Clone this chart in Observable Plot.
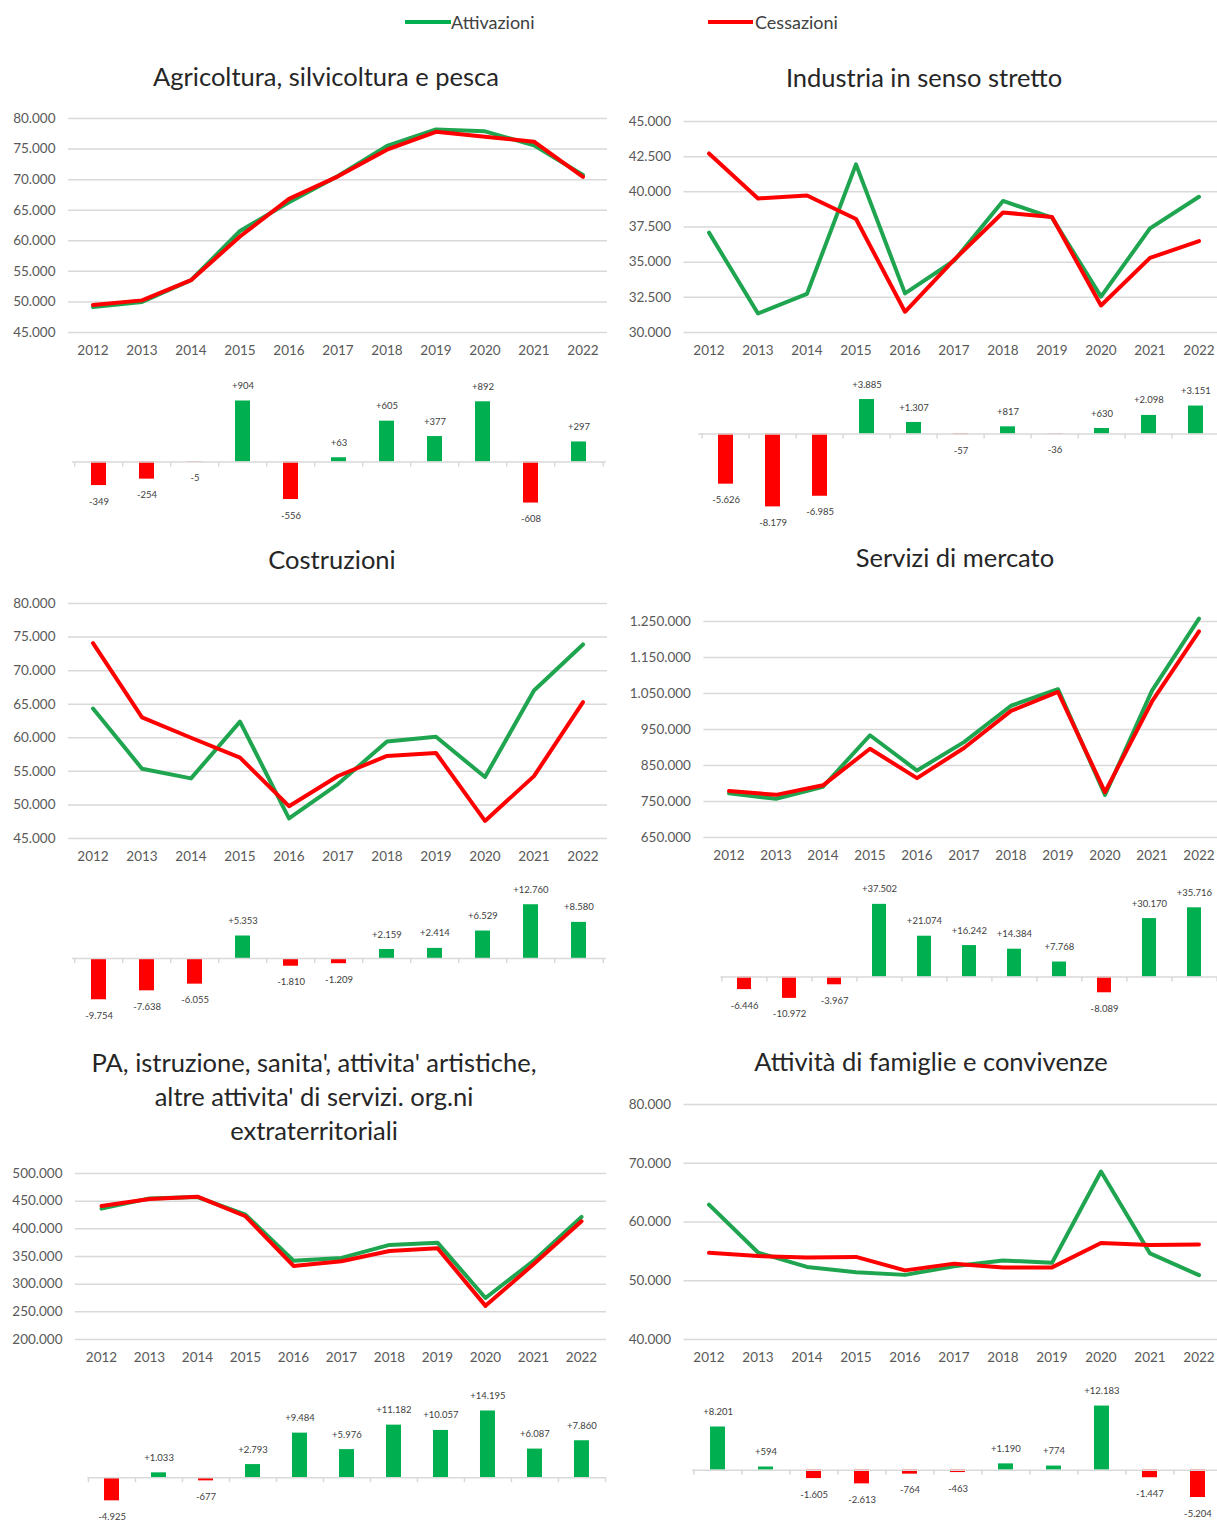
<!DOCTYPE html>
<html>
<head>
<meta charset="utf-8">
<script src="https://cdn.jsdelivr.net/npm/d3@7"></script>
<script src="https://cdn.jsdelivr.net/npm/@observablehq/plot@0.6"></script>
<style>
  html, body { margin: 0; padding: 0; background: #fff; }
  body { width: 1217px; height: 1522px; overflow: hidden; }
  #root { position: relative; width: 1217px; height: 1522px; font-family: Lato, "Open Sans", sans-serif; }
  .title { position: absolute; text-align: center; font-size: 25.5px; color: #262626; line-height: 34px; width: 700px; }
  .leg { position: absolute; font-size: 18px; color: #404040; line-height: 20px; }
  .legline { position: absolute; height: 4px; }
</style>
</head>
<body>
<div id="root"></div>
<script>
// ---------- DATA ----------
const years = ["2012","2013","2014","2015","2016","2017","2018","2019","2020","2021","2022"];

const agriAtt  = [49150, 50000, 53550, 61600, 66300, 70600, 75500, 78200, 77900, 75600, 70750];
const agriCes  = [49500, 50254, 53555, 60696, 66856, 70537, 74895, 77823, 77008, 76208, 70453];
const agriDiff = [-349, -254, -5, 904, -556, 63, 605, 377, 892, -608, 297];
const agriTicks = [45000, 50000, 55000, 60000, 65000, 70000, 75000, 80000];

const indAtt  = [37100, 31350, 32750, 41950, 32780, 35100, 39350, 38170, 32550, 37400, 39650];
const indCes  = [42726, 39529, 39735, 38065, 31473, 35157, 38533, 38206, 31920, 35302, 36499];
const indDiff = [-5626, -8179, -6985, 3885, 1307, -57, 817, -36, 630, 2098, 3151];
const indTicks = [30000, 32500, 35000, 37500, 40000, 42500, 45000];

const cosAtt  = [64350, 55400, 53950, 62400, 48000, 53100, 59450, 60150, 54150, 67050, 73900];
const cosCes  = [74104, 63038, 60005, 57047, 49810, 54309, 57291, 57736, 47621, 54290, 65320];
const cosDiff = [-9754, -7638, -6055, 5353, -1810, -1209, 2159, 2414, 6529, 12760, 8580];
const cosTicks = [45000, 50000, 55000, 60000, 65000, 70000, 75000, 80000];

const serAtt  = [773000, 757500, 791000, 934000, 836000, 915000, 1016000, 1062000, 768000, 1058000, 1258000];
const serCes  = [779446, 768472, 794967, 896498, 814926, 898758, 1001616, 1054232, 776089, 1027830, 1222284];
const serDiff = [-6446, -10972, -3967, 37502, 21074, 16242, 14384, 7768, -8089, 30170, 35716];
const serTicks = [650000, 750000, 850000, 950000, 1050000, 1150000, 1250000];

const paAtt  = [436500, 455000, 457500, 425500, 342500, 347500, 371000, 375000, 275000, 342000, 421500];
const paCes  = [441425, 453967, 458177, 422707, 333016, 341524, 359818, 364943, 260805, 335913, 413640];
const paDiff = [-4925, 1033, -677, 2793, 9484, 5976, 11182, 10057, 14195, 6087, 7860];
const paTicks = [200000, 250000, 300000, 350000, 400000, 450000, 500000];

const famAtt  = [62950, 54800, 52350, 51450, 51000, 52450, 53450, 53050, 68600, 54650, 50950];
const famCes  = [54749, 54206, 53955, 54063, 51764, 52913, 52260, 52276, 56417, 56097, 56154];
const famDiff = [8201, 594, -1605, -2613, -764, -463, 1190, 774, 12183, -1447, -5204];
const famTicks = [40000, 50000, 60000, 70000, 80000];

const seriesNames = ["Attivazioni", "Cessazioni"];
const titles = {
  agri: ["Agricoltura, silvicoltura e pesca"],
  ind: ["Industria in senso stretto"],
  cos: ["Costruzioni"],
  ser: ["Servizi di mercato"],
  pa: ["PA, istruzione, sanita', attivita' artistiche,", "altre attivita' di servizi. org.ni", "extraterritoriali"],
  fam: ["Attività di famiglie e convivenze"]
};

// ---------- STYLE ----------
const GREEN_LINE = "#1fa550";
const GREEN_BAR = "#00b050";
const RED = "#ff0000";
const GRID = "#d9d9d9";
const TICKCOL = "#595959";

const it = d3.formatLocale({decimal: ",", thousands: ".", grouping: [3], currency: ["€", ""], minus: "-"});
const fmt = it.format(",.0f");
const fmtSigned = it.format("+,.0f");

const root = document.getElementById("root");

function place(node, left, top) {
  node.style.position = "absolute";
  node.style.left = left + "px";
  node.style.top = top + "px";
  root.appendChild(node);
}

function title(lines, cx, top) {
  const d = document.createElement("div");
  d.className = "title";
  d.style.left = (cx - 350) + "px";
  d.style.top = top + "px";
  d.innerHTML = lines.map(l => `<div>${l}</div>`).join("");
  root.appendChild(d);
}

function lineChart({att, ces, ticks, left, top, width, mL, mR, plotH}) {
  const mT = 10, mB = 30;
  const a = years.map((y, i) => ({year: y, v: att[i]}));
  const c = years.map((y, i) => ({year: y, v: ces[i]}));
  const svg = Plot.plot({
    width, height: mT + plotH + mB,
    marginLeft: mL, marginRight: mR, marginTop: mT, marginBottom: mB,
    style: {fontFamily: "Lato, sans-serif", fontSize: "13.5px", color: TICKCOL, background: "transparent", overflow: "visible"},
    x: {type: "band", domain: years, padding: 0, label: null},
    y: {domain: [ticks[0], ticks[ticks.length - 1]], label: null},
    marks: [
      Plot.gridY(ticks, {stroke: GRID, strokeOpacity: 1, strokeWidth: 1.5}),
      Plot.axisY(ticks, {tickSize: 0, tickPadding: 13, tickFormat: fmt, label: null}),
      Plot.axisX({tickSize: 0, tickPadding: 13, label: null}),
      Plot.lineY(a, {x: "year", y: "v", stroke: GREEN_LINE, strokeWidth: 4, strokeLinejoin: "round"}),
      Plot.lineY(c, {x: "year", y: "v", stroke: RED, strokeWidth: 4, strokeLinejoin: "round"})
    ]
  });
  place(svg, left, top);
}

function barChart({diff, domain, left, width, mL, mR, pxTop, pxBottom}) {
  const mT = 25, mB = 25;
  const data = years.map((y, i) => ({year: y, v: diff[i]}));
  const pos = data.filter(d => d.v >= 0);
  const neg = data.filter(d => d.v < 0);
  const step = (width - mL - mR) / years.length;
  const svg = Plot.plot({
    width, height: (pxBottom - pxTop) + mT + mB,
    marginLeft: mL, marginRight: mR, marginTop: mT, marginBottom: mB,
    style: {fontFamily: "Lato, sans-serif", fontSize: "9.5px", color: "#404040", background: "transparent", overflow: "visible"},
    x: {type: "band", domain: years, paddingInner: 0.68, paddingOuter: 0.34, axis: null},
    y: {domain, axis: null},
    marks: [
      Plot.barY(pos, {x: "year", y: "v", fill: GREEN_BAR}),
      Plot.barY(neg, {x: "year", y: "v", fill: RED}),
      Plot.ruleY([0], {stroke: GRID, strokeWidth: 1.5}),
      Plot.ruleX(years, {x: d => d, y1: 0, y2: 0, insetBottom: -5, dx: -step / 2, stroke: GRID, strokeWidth: 1.5}),
      Plot.ruleX(years.slice(-1), {x: d => d, y1: 0, y2: 0, insetBottom: -5, dx: step / 2, stroke: GRID, strokeWidth: 1.5}),
      Plot.text(pos, {x: "year", y: "v", text: d => fmtSigned(d.v), dy: -15, fill: "#404040"}),
      Plot.text(neg, {x: "year", y: "v", text: d => fmtSigned(d.v), dy: 16, fill: "#404040"})
    ]
  });
  place(svg, left, pxTop - mT);
}

// ---------- LEGEND ----------
function legend(name, color, x1, x2, tx) {
  const l = document.createElement("div");
  l.className = "legline";
  l.style.left = x1 + "px"; l.style.width = (x2 - x1) + "px"; l.style.top = "20px"; l.style.background = color;
  root.appendChild(l);
  const t = document.createElement("div");
  t.className = "leg";
  t.style.left = tx + "px"; t.style.top = "12px";
  t.textContent = name;
  root.appendChild(t);
}
legend(seriesNames[0], GREEN_BAR, 405, 451, 451);
legend(seriesNames[1], RED, 708, 753, 755);

// ---------- PANELS ----------
title(titles.agri, 326, 59);
lineChart({att: agriAtt, ces: agriCes, ticks: agriTicks, left: 0, top: 108, width: 610, mL: 68, mR: 3, plotH: 214});
barChart({diff: agriDiff, domain: [-800, 1000], left: 0, width: 610, mL: 72, mR: 4, pxTop: 394.2, pxBottom: 515.7});

title(titles.ind, 924, 60);
lineChart({att: indAtt, ces: indCes, ticks: indTicks, left: 610, top: 111, width: 614, mL: 73.5, mR: 0, plotH: 211});
barChart({diff: indDiff, domain: [-10000, 4000], left: 610, width: 613, mL: 88.2, mR: 0, pxTop: 397.7, pxBottom: 522.3});

title(titles.cos, 332, 542);
lineChart({att: cosAtt, ces: cosCes, ticks: cosTicks, left: 0, top: 593, width: 610, mL: 68, mR: 3, plotH: 235});
barChart({diff: cosDiff, domain: [-10000, 14000], left: 0, width: 610, mL: 72, mR: 4, pxTop: 898.6, pxBottom: 999.9});

title(titles.ser, 955, 540);
lineChart({att: serAtt, ces: serCes, ticks: serTicks, left: 610, top: 611, width: 613, mL: 93.4, mR: 0, plotH: 216});
barChart({diff: serDiff, domain: [-20000, 40000], left: 610, width: 608, mL: 110.4, mR: 0, pxTop: 899.1, pxBottom: 1015.5});

title(titles.pa, 314, 1045);
lineChart({att: paAtt, ces: paCes, ticks: paTicks, left: 0, top: 1163, width: 610, mL: 75, mR: 4, plotH: 166});
barChart({diff: paDiff, domain: [-6000, 16000], left: 0, width: 610, mL: 87.5, mR: 4.5, pxTop: 1401.5, pxBottom: 1504.9});

title(titles.fam, 931, 1044);
lineChart({att: famAtt, ces: famCes, ticks: famTicks, left: 610, top: 1094, width: 614, mL: 73.5, mR: 0, plotH: 235});
barChart({diff: famDiff, domain: [-6000, 14000], left: 610, width: 613, mL: 82, mR: 0, pxTop: 1396.4, pxBottom: 1501.6});
</script>
</body>
</html>
